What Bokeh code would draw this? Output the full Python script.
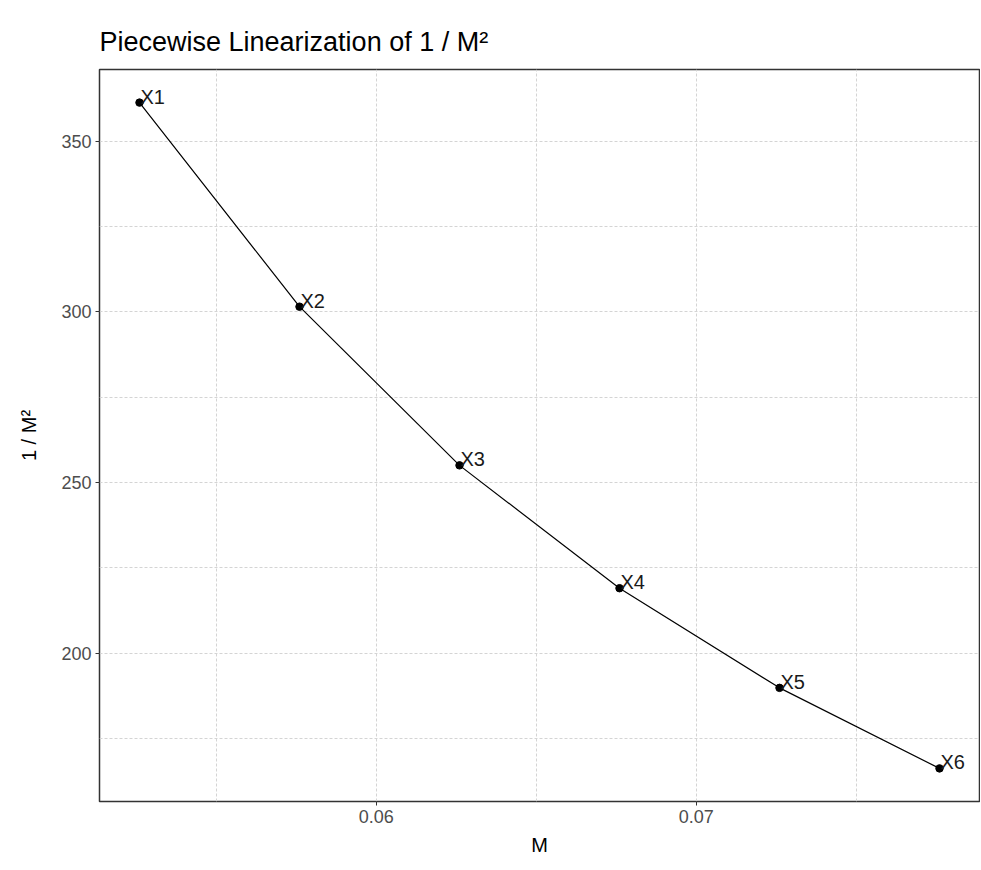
from bokeh.plotting import figure
from bokeh.models import Range1d, FixedTicker, ColumnDataSource
from bokeh.core.properties import value
from bokeh.embed import file_html
from bokeh.resources import INLINE

# Data
labels = ["X1", "X2", "X3", "X4", "X5", "X6"]
m_vals = [0.0526, 0.0576, 0.0626, 0.0676, 0.0726, 0.0776]
inv_m2 = [361.3, 301.5, 255.0, 219.0, 189.8, 166.2]

x_major = [0.06, 0.07]
x_minor = [0.055, 0.065, 0.075]
y_major = [200, 250, 300, 350]
y_minor = [175, 225, 275, 325]

FONT = "Liberation Sans"

src = ColumnDataSource(dict(x=m_vals, y=inv_m2, lab=labels))

p = figure(
    frame_width=880, frame_height=732,
    min_border_left=99, min_border_right=1, min_border_top=69, min_border_bottom=62,
    x_range=Range1d(0.05135, 0.07885), y_range=Range1d(156.5, 371.0),
    output_backend="svg", toolbar_location=None,
    title="Piecewise Linearization of 1 / M²",
)

p.background_fill_color = "white"
p.border_fill_color = "white"
p.outline_line_color = "#333333"
p.outline_line_width = 1.5

p.title.text_font = FONT
p.title.text_font_size = "27px"
p.title.text_font_style = "normal"
p.title.text_color = "black"
p.title.align = "left"
p.title.standoff = 26

xt = FixedTicker(ticks=x_major, minor_ticks=x_minor)
yt = FixedTicker(ticks=y_major, minor_ticks=y_minor)
p.xaxis.ticker = xt
p.yaxis.ticker = yt
p.xaxis.axis_label = "M"
p.yaxis.axis_label = "1 / M²"

for ax in (p.xaxis[0], p.yaxis[0]):
    ax.axis_line_color = None
    ax.major_tick_line_color = "#333333"
    ax.major_tick_out = 4
    ax.major_tick_in = 0
    ax.minor_tick_line_color = None
    ax.major_label_text_font = FONT
    ax.major_label_text_font_size = "18px"
    ax.major_label_text_color = "#4d4d4d"
    ax.axis_label_text_font = FONT
    ax.axis_label_text_font_size = "20px"
    ax.axis_label_text_font_style = "normal"
    ax.axis_label_text_color = "black"
    ax.major_label_standoff = 4

p.xaxis.axis_label_standoff = 8
p.yaxis.axis_label_standoff = 18

for g in (p.xgrid[0], p.ygrid[0]):
    g.grid_line_color = "#d4d4d4"
    g.grid_line_dash = "3 2"
    g.grid_line_width = 1
    g.minor_grid_line_color = "#d4d4d4"
    g.minor_grid_line_dash = "3 2"
    g.minor_grid_line_width = 1

p.line("x", "y", source=src, line_color="black", line_width=1.2)
p.scatter("x", "y", source=src, size=7.5, fill_color="black", line_color="black")
p.text("x", "y", text="lab", source=src, text_font=value(FONT), text_font_size="20px",
       text_color="#1a1a1a", text_align="left", text_baseline="alphabetic",
       x_offset=1, y_offset=-6)

open("out.html", "w").write(file_html(p, INLINE))
